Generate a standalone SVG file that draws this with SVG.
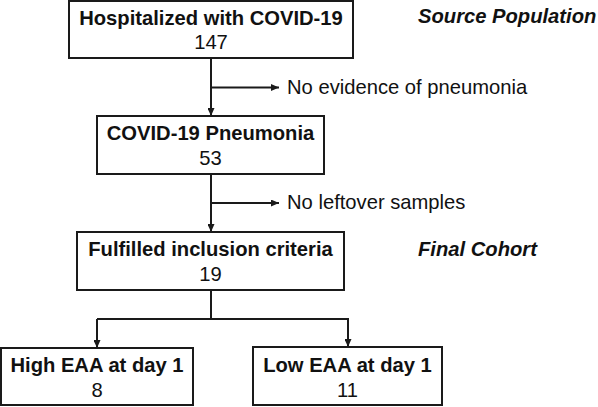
<svg xmlns="http://www.w3.org/2000/svg" width="598" height="407" viewBox="0 0 598 407">
<defs>
<style>
.box{fill:#fff;stroke:#1a1a1a;stroke-width:2}
.t{font-family:"Liberation Sans",Arial,sans-serif;font-size:20.2px;fill:#111;text-anchor:middle}
.b{font-weight:bold}
.l{font-family:"Liberation Sans",Arial,sans-serif;font-size:20.2px;fill:#111}
.h{font-family:"Liberation Sans",Arial,sans-serif;font-size:20.2px;fill:#111;font-weight:bold;font-style:italic}
.c{fill:none;stroke:#1a1a1a;stroke-width:2}
</style>
<marker id="ar" viewBox="0 0 10 10" refX="10" refY="5" markerWidth="4" markerHeight="3.5" markerUnits="strokeWidth" orient="auto" preserveAspectRatio="none">
<path d="M0,0 L10,5 L0,10 z" fill="#1a1a1a"/>
</marker>
</defs>
<rect width="598" height="407" fill="#fff"/>
<g id="connectors">
<line class="c" x1="211" y1="58" x2="211" y2="116" marker-end="url(#ar)"/>
<line class="c" x1="211" y1="87.5" x2="279" y2="87.5" marker-end="url(#ar)"/>
<line class="c" x1="211" y1="174" x2="211" y2="232" marker-end="url(#ar)"/>
<line class="c" x1="211" y1="203" x2="279" y2="203" marker-end="url(#ar)"/>
<line class="c" x1="211" y1="290" x2="211" y2="319"/>
<polyline class="c" points="97,319 348,319 348,347" marker-end="url(#ar)"/>
<line class="c" x1="97" y1="319" x2="97" y2="348" marker-end="url(#ar)"/>
</g>
<g id="n1">
<rect class="box" x="69" y="1" width="284" height="57"/>
<text class="t b" x="211" y="25">Hospitalized with COVID-19</text>
<text class="t" x="211" y="49">147</text>
</g>
<g id="n2">
<rect class="box" x="97" y="116" width="227" height="58"/>
<text class="t b" x="210.5" y="140">COVID-19 Pneumonia</text>
<text class="t" x="210.5" y="165">53</text>
</g>
<g id="n3">
<rect class="box" x="77" y="232" width="267" height="58"/>
<text class="t b" x="210.5" y="256">Fulfilled inclusion criteria</text>
<text class="t" x="210.5" y="281">19</text>
</g>
<g id="n4">
<rect class="box" x="1" y="348" width="192" height="57"/>
<text class="t b" x="97" y="372">High EAA at day 1</text>
<text class="t" x="97" y="397">8</text>
</g>
<g id="n5">
<rect class="box" x="253" y="347" width="189" height="58"/>
<text class="t b" x="347.5" y="372">Low EAA at day 1</text>
<text class="t" x="347.5" y="397">11</text>
</g>
<g id="labels">
<text class="l" x="287" y="94">No evidence of pneumonia</text>
<text class="l" x="287" y="209">No leftover samples</text>
<text class="h" x="418" y="23">Source Population</text>
<text class="h" x="418" y="256">Final Cohort</text>
</g>
</svg>
